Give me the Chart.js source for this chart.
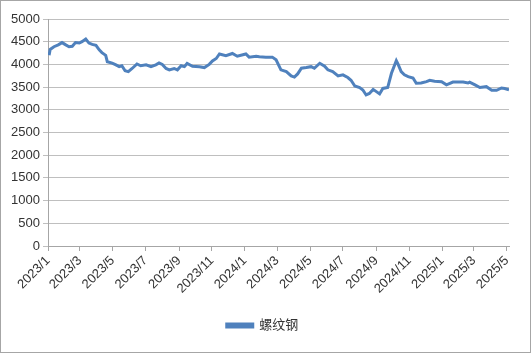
<!DOCTYPE html>
<html>
<head>
<meta charset="utf-8">
<script src="https://cdn.jsdelivr.net/npm/chart.js@4/dist/chart.umd.min.js"></script>
<style>
  html, body { margin: 0; padding: 0; background: #fff; }
  #wrap { width: 531px; height: 353px; }
</style>
</head>
<body>
<div id="wrap"><canvas id="result" width="531" height="353"></canvas></div>
<script>
"use strict";
// rebar price
const dates = [
  "2023-01-03", "2023-01-05", "2023-01-12", "2023-01-20", "2023-01-27", "2023-02-03",
  "2023-02-09", "2023-02-15", "2023-02-21", "2023-02-28", "2023-03-05", "2023-03-12",
  "2023-03-18", "2023-03-24", "2023-03-31", "2023-04-06", "2023-04-11", "2023-04-18",
  "2023-04-21", "2023-04-30", "2023-05-07", "2023-05-13", "2023-05-18", "2023-05-24",
  "2023-05-30", "2023-06-06", "2023-06-15", "2023-06-22", "2023-07-02", "2023-07-11",
  "2023-07-20", "2023-07-26", "2023-08-01", "2023-08-08", "2023-08-14", "2023-08-23",
  "2023-08-29", "2023-09-05", "2023-09-11", "2023-09-16", "2023-09-26", "2023-10-09",
  "2023-10-18", "2023-10-27", "2023-11-02", "2023-11-09", "2023-11-15", "2023-11-27",
  "2023-12-09", "2023-12-18", "2024-01-03", "2024-01-09", "2024-01-22", "2024-01-28",
  "2024-02-09", "2024-02-21", "2024-02-28", "2024-03-08", "2024-03-18", "2024-03-27",
  "2024-04-02", "2024-04-08", "2024-04-15", "2024-04-24", "2024-05-03", "2024-05-09",
  "2024-05-19", "2024-05-28", "2024-06-03", "2024-06-12", "2024-06-22", "2024-07-01",
  "2024-07-10", "2024-07-16", "2024-07-23", "2024-08-01", "2024-08-07", "2024-08-13",
  "2024-08-19", "2024-08-26", "2024-09-01", "2024-09-07", "2024-09-13", "2024-09-22",
  "2024-09-29", "2024-10-08", "2024-10-11", "2024-10-17", "2024-10-23", "2024-10-30",
  "2024-11-08", "2024-11-14", "2024-11-23", "2024-12-03", "2024-12-09", "2024-12-18",
  "2024-12-31", "2025-01-09", "2025-01-21", "2025-02-09", "2025-02-18", "2025-02-21",
  "2025-03-03", "2025-03-12", "2025-03-24", "2025-04-03", "2025-04-12", "2025-04-21",
  "2025-04-27", "2025-05-05"
];
const rebar = [
  4200, 4330, 4390, 4430, 4480, 4430,
  4390, 4400, 4480, 4470, 4500, 4560,
  4470, 4440, 4420, 4320, 4260, 4200,
  4060, 4030, 3990, 3950, 3970, 3860,
  3840, 3910, 4010, 3970, 3990, 3950,
  3990, 4030, 4000, 3910, 3880, 3910,
  3880, 3970, 3950, 4020, 3960, 3950,
  3930, 4000, 4075, 4130, 4230, 4190,
  4240, 4180, 4230, 4160, 4180, 4170,
  4160, 4160, 4100, 3880, 3840, 3745,
  3720, 3790, 3915, 3930, 3950, 3915,
  4025, 3960, 3880, 3840, 3745, 3770,
  3710, 3650, 3525, 3490, 3437, 3327,
  3360, 3450, 3400, 3350, 3470, 3490,
  3805, 4080, 4010, 3840, 3770, 3730,
  3700, 3585, 3590, 3620, 3650, 3630,
  3620, 3550, 3610, 3610, 3590, 3610,
  3550, 3490, 3510, 3430, 3430, 3480,
  3470, 3440
];
const seriesName = "螺纹钢";
const axisStart = "2023-01-01";
const axisEnd = "2025-05-05";
const tickMonths = ["2023-01", "2023-03", "2023-05", "2023-07", "2023-09", "2023-11",
  "2024-01", "2024-03", "2024-05", "2024-07", "2024-09", "2024-11",
  "2025-01", "2025-03", "2025-05"];

const DAY = 86400000;
function dayOf(s) {
  return (Date.parse(s + "T00:00:00Z") - Date.parse(axisStart + "T00:00:00Z")) / DAY;
}
function labelOf(v) {
  const d = new Date(Date.parse(axisStart + "T00:00:00Z") + v * DAY);
  return d.getUTCFullYear() + "/" + (d.getUTCMonth() + 1);
}

const points = dates.map((d, i) => ({ x: dayOf(d), y: rebar[i] }));
const tickValues = tickMonths.map((m) => dayOf(m + "-01"));

// white background, grey outer border, legend nudged to page centre
const frame = {
  id: "frame",
  afterLayout(chart) {
    chart.legend.left += 8;
    chart.legend.right += 8;
  },
  beforeDraw(chart) {
    const c = chart.ctx;
    c.save();
    c.fillStyle = "#fff";
    c.fillRect(0, 0, chart.width, chart.height);
    c.strokeStyle = "#a6a6a6";
    c.lineWidth = 1;
    c.strokeRect(0.5, 0.5, chart.width - 1, chart.height - 1);
    c.restore();
  },
};

Chart.defaults.font.family = "'Liberation Sans', 'Noto Sans CJK SC', sans-serif";
Chart.defaults.color = "#333";

new Chart("result", {
  type: "line",
  data: {
    datasets: [
      {
        label: seriesName,
        data: points,
        borderColor: "#4f81bd",
        backgroundColor: "#4f81bd",
        borderWidth: 3,
        pointRadius: 0,
        tension: 0,
        fill: false,
      },
    ],
  },
  options: {
    responsive: false,
    animation: false,
    layout: { padding: { left: 0, right: 22, top: 19, bottom: 11 } },
    plugins: {
      legend: {
        position: "bottom",
        labels: { boxWidth: 26, boxHeight: 3, font: { size: 13 }, color: "#333", padding: 10 },
      },
      tooltip: { enabled: false },
    },
    scales: {
      x: {
        type: "linear",
        min: 0,
        max: dayOf(axisEnd),
        afterBuildTicks(scale) {
          scale.ticks = tickValues.map((v) => ({ value: v }));
        },
        afterFit(scale) { scale.height = 63; },
        ticks: {
          callback: (v) => labelOf(v),
          minRotation: 45,
          maxRotation: 45,
          font: { size: 13 },
          color: "#333",
          padding: 2,
        },
        grid: { drawOnChartArea: false, drawTicks: true, tickLength: 5, color: "#a6a6a6" },
        border: { color: "#a6a6a6" },
      },
      y: {
        min: 0,
        max: 5000,
        afterFit(scale) { scale.width = 48; },
        ticks: { stepSize: 500, callback: (v) => String(v), font: { size: 13 }, color: "#333", padding: 3 },
        grid: { color: "#bfbfbf", tickLength: 5 },
        border: { color: "#a6a6a6" },
      },
    },
  },
  plugins: [frame],
});
</script>
</body>
</html>
